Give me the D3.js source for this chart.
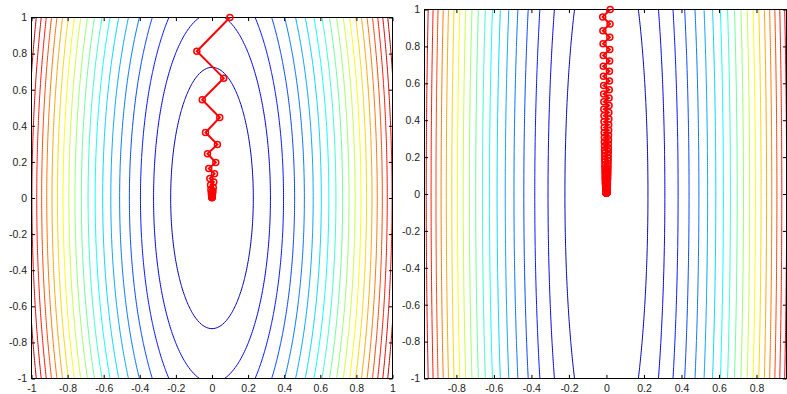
<!DOCTYPE html>
<html>
<head>
<meta charset="utf-8">
<script src="https://cdnjs.cloudflare.com/ajax/libs/d3/7.8.5/d3.min.js"></script>
<style>
  html, body { margin: 0; padding: 0; background: #fff; }
  svg { display: block; }
  .axis text { font-family: "Liberation Sans", Arial, Helvetica, sans-serif; font-size: 10.5px; fill: #222; }
  .axis line { stroke: #000; }
</style>
</head>
<body>
<div id="chart"></div>
<script>
// f(x, y) = a*x^2 + b*y^2, coefficients
const leftCoef = [10, 1];
const rightCoef = [1, 0.02];

// contour levels (20 each) and the top of each colour range
const leftLevels = [0.524, 1.048, 1.571, 2.095, 2.619, 3.143, 3.667, 4.190, 4.714, 5.238,
  5.762, 6.286, 6.810, 7.333, 7.857, 8.381, 8.905, 9.429, 9.952, 10.476];
const rightLevels = [0.049, 0.097, 0.146, 0.194, 0.243, 0.291, 0.340, 0.389, 0.437, 0.486,
  0.534, 0.583, 0.631, 0.680, 0.729, 0.777, 0.826, 0.874, 0.923, 0.971];
const leftZMax = 11;
const rightZMax = 1.02;

// gradient descent iterates
const leftPathX = [0.099, -0.084, 0.065, -0.054, 0.043, -0.036, 0.030, -0.025, 0.021, -0.018,
  0.014, -0.012, 0.010, -0.008, 0.007, -0.006, 0.005, -0.004, 0.003, -0.003,
  0.002, -0.002, 0.002, -0.001, 0.001, -0.001, 0.001, -0.001, 0.000, 0.000];
const leftPathY = [1.000, 0.813, 0.664, 0.544, 0.446, 0.363, 0.296, 0.245, 0.197, 0.163,
  0.134, 0.108, 0.088, 0.072, 0.058, 0.047, 0.038, 0.031, 0.025, 0.021,
  0.017, 0.014, 0.011, 0.009, 0.007, 0.006, 0.005, 0.004, 0.003, 0.002];

const rightPathX = [0.020, -0.020, 0.019, -0.019, 0.018, -0.018, 0.018, -0.017, 0.017, -0.017,
  0.016, -0.016, 0.016, -0.015, 0.015, -0.015, 0.014, -0.014, 0.014, -0.014,
  0.013, -0.013, 0.013, -0.013, 0.012, -0.012, 0.012, -0.012, 0.011, -0.011,
  0.011, -0.011, 0.010, -0.010, 0.010, -0.010, 0.010, -0.009, 0.009, -0.009,
  0.009, -0.009, 0.009, -0.008, 0.008, -0.008, 0.008, -0.008, 0.008, -0.007,
  0.007, -0.007, 0.007, -0.007, 0.007, -0.006, 0.006, -0.006, 0.006, -0.006,
  0.006, -0.006, 0.006, -0.006, 0.005, -0.005, 0.005, -0.005, 0.005, -0.005,
  0.005, -0.005, 0.005, -0.005, 0.005, -0.004, 0.004, -0.004, 0.004, -0.004,
  0.004, -0.004, 0.004, -0.004, 0.004, -0.004, 0.003, -0.003, 0.003, -0.003,
  0.003, -0.003, 0.003, -0.003, 0.003, -0.003, 0.003, -0.003, 0.003, -0.003,
  0.003, -0.003, 0.003, -0.003, 0.003, -0.003, 0.002, -0.002, 0.002, -0.002,
  0.002, -0.002, 0.002, -0.002, 0.002, -0.002, 0.002, -0.002, 0.002, -0.002,
  0.002, -0.002, 0.002, -0.002, 0.002, -0.002, 0.002, -0.002, 0.002, -0.002];
const rightPathY = [1.000, 0.960, 0.922, 0.885, 0.849, 0.815, 0.783, 0.751, 0.721, 0.693,
  0.665, 0.638, 0.613, 0.588, 0.565, 0.542, 0.520, 0.500, 0.480, 0.460,
  0.442, 0.424, 0.407, 0.391, 0.375, 0.360, 0.346, 0.332, 0.319, 0.306,
  0.294, 0.282, 0.271, 0.260, 0.249, 0.239, 0.230, 0.221, 0.212, 0.203,
  0.195, 0.187, 0.180, 0.173, 0.166, 0.159, 0.153, 0.147, 0.141, 0.135,
  0.130, 0.125, 0.120, 0.115, 0.110, 0.106, 0.102, 0.098, 0.094, 0.090,
  0.086, 0.083, 0.080, 0.076, 0.073, 0.070, 0.068, 0.065, 0.062, 0.060,
  0.058, 0.055, 0.053, 0.051, 0.049, 0.047, 0.045, 0.043, 0.041, 0.040,
  0.038, 0.037, 0.035, 0.034, 0.032, 0.031, 0.030, 0.029, 0.027, 0.026,
  0.025, 0.024, 0.023, 0.022, 0.021, 0.020, 0.019, 0.018, 0.018, 0.017,
  0.016, 0.016, 0.015, 0.014, 0.014, 0.013, 0.013, 0.012, 0.012, 0.011,
  0.011, 0.010, 0.010, 0.010, 0.009, 0.009, 0.008, 0.008, 0.008, 0.007,
  0.007, 0.007, 0.007, 0.006, 0.006, 0.006, 0.006, 0.005, 0.005, 0.005];

// tick labels
const leftXTicks = [-1, -0.8, -0.6, -0.4, -0.2, 0, 0.2, 0.4, 0.6, 0.8, 1];
const rightXTicks = [-0.8, -0.6, -0.4, -0.2, 0, 0.2, 0.4, 0.6, 0.8];
const yTicks = [-1, -0.8, -0.6, -0.4, -0.2, 0, 0.2, 0.4, 0.6, 0.8, 1];

const width = 787, height = 394;
const svg = d3.select('#chart').append('svg')
  .attr('width', width)
  .attr('height', height);

// matlab jet
const jet = d3.scaleLinear()
  .domain([0, 0.125, 0.375, 0.625, 0.875, 1])
  .range(['#000080', '#0000ff', '#00ffff', '#ffff00', '#ff0000', '#800000'])
  .clamp(true);

const gridMin = -1.1, gridStep = 0.01, gridN = 221;
const tickLen = 3.6;
const fmt = d => String(+d.toFixed(1));

function drawPanel(p) {
  const x = d3.scaleLinear().domain(p.xDomain).range([p.left, p.right]);
  const y = d3.scaleLinear().domain([-1, 1]).range([p.bottom, p.top]);
  const g = svg.append('g');

  g.append('clipPath').attr('id', p.id + '-clip')
    .append('rect')
    .attr('x', p.left).attr('y', p.top)
    .attr('width', p.right - p.left).attr('height', p.bottom - p.top);

  const values = new Array(gridN * gridN);
  for (let j = 0; j < gridN; j++) {
    const yy = gridMin + j * gridStep;
    for (let i = 0; i < gridN; i++) {
      const xx = gridMin + i * gridStep;
      values[j * gridN + i] = p.coef[0] * xx * xx + p.coef[1] * yy * yy;
    }
  }
  const contours = d3.contours().size([gridN, gridN]).thresholds(p.levels)(values);
  const proj = d3.geoTransform({
    point(px, py) {
      this.stream.point(x(gridMin + (px - 0.5) * gridStep), y(gridMin + (py - 0.5) * gridStep));
    }
  });
  const geoPath = d3.geoPath(proj);

  g.append('g')
    .attr('clip-path', `url(#${p.id}-clip)`)
    .selectAll('path')
    .data(contours)
    .enter().append('path')
    .attr('d', geoPath)
    .attr('fill', 'none')
    .attr('stroke', d => jet(d.value / p.zmax))
    .attr('stroke-width', 1);

  g.append('g').attr('class', 'axis')
    .attr('transform', `translate(0,${p.bottom})`)
    .call(d3.axisBottom(x).tickValues(p.xTicks).tickSize(-tickLen).tickPadding(6.5).tickFormat(fmt))
    .call(a => a.select('.domain').remove());
  g.append('g').attr('class', 'axis')
    .attr('transform', `translate(0,${p.top})`)
    .call(d3.axisTop(x).tickValues(p.xTicks).tickSize(-tickLen).tickFormat(''))
    .call(a => a.select('.domain').remove());
  g.append('g').attr('class', 'axis')
    .attr('transform', `translate(${p.left},0)`)
    .call(d3.axisLeft(y).tickValues(yTicks).tickSize(-tickLen).tickPadding(4.5).tickFormat(fmt))
    .call(a => a.select('.domain').remove());
  g.append('g').attr('class', 'axis')
    .attr('transform', `translate(${p.right},0)`)
    .call(d3.axisRight(y).tickValues(yTicks).tickSize(-tickLen).tickFormat(''))
    .call(a => a.select('.domain').remove());

  g.append('rect')
    .attr('x', p.left).attr('y', p.top)
    .attr('width', p.right - p.left).attr('height', p.bottom - p.top)
    .attr('fill', 'none')
    .attr('stroke', '#000')
    .attr('stroke-width', 1);

  const pts = d3.zip(p.pathX, p.pathY);
  g.append('path')
    .datum(pts)
    .attr('d', d3.line().x(d => x(d[0])).y(d => y(d[1])))
    .attr('fill', 'none')
    .attr('stroke', '#ff0000')
    .attr('stroke-width', 2);
  g.append('g').selectAll('circle')
    .data(pts)
    .enter().append('circle')
    .attr('cx', d => x(d[0]))
    .attr('cy', d => y(d[1]))
    .attr('r', 3)
    .attr('fill', 'none')
    .attr('stroke', '#ff0000')
    .attr('stroke-width', 1.5);
}

drawPanel({
  id: 'left', left: 31.5, right: 392.5, top: 17.5, bottom: 378.5,
  xDomain: [-1, 1], coef: leftCoef, levels: leftLevels, zmax: leftZMax,
  pathX: leftPathX, pathY: leftPathY, xTicks: leftXTicks
});
drawPanel({
  id: 'right', left: 424.5, right: 786.5, top: 9.5, bottom: 378.5,
  xDomain: [-0.97, 0.96], coef: rightCoef, levels: rightLevels, zmax: rightZMax,
  pathX: rightPathX, pathY: rightPathY, xTicks: rightXTicks
});
</script>
</body>
</html>
